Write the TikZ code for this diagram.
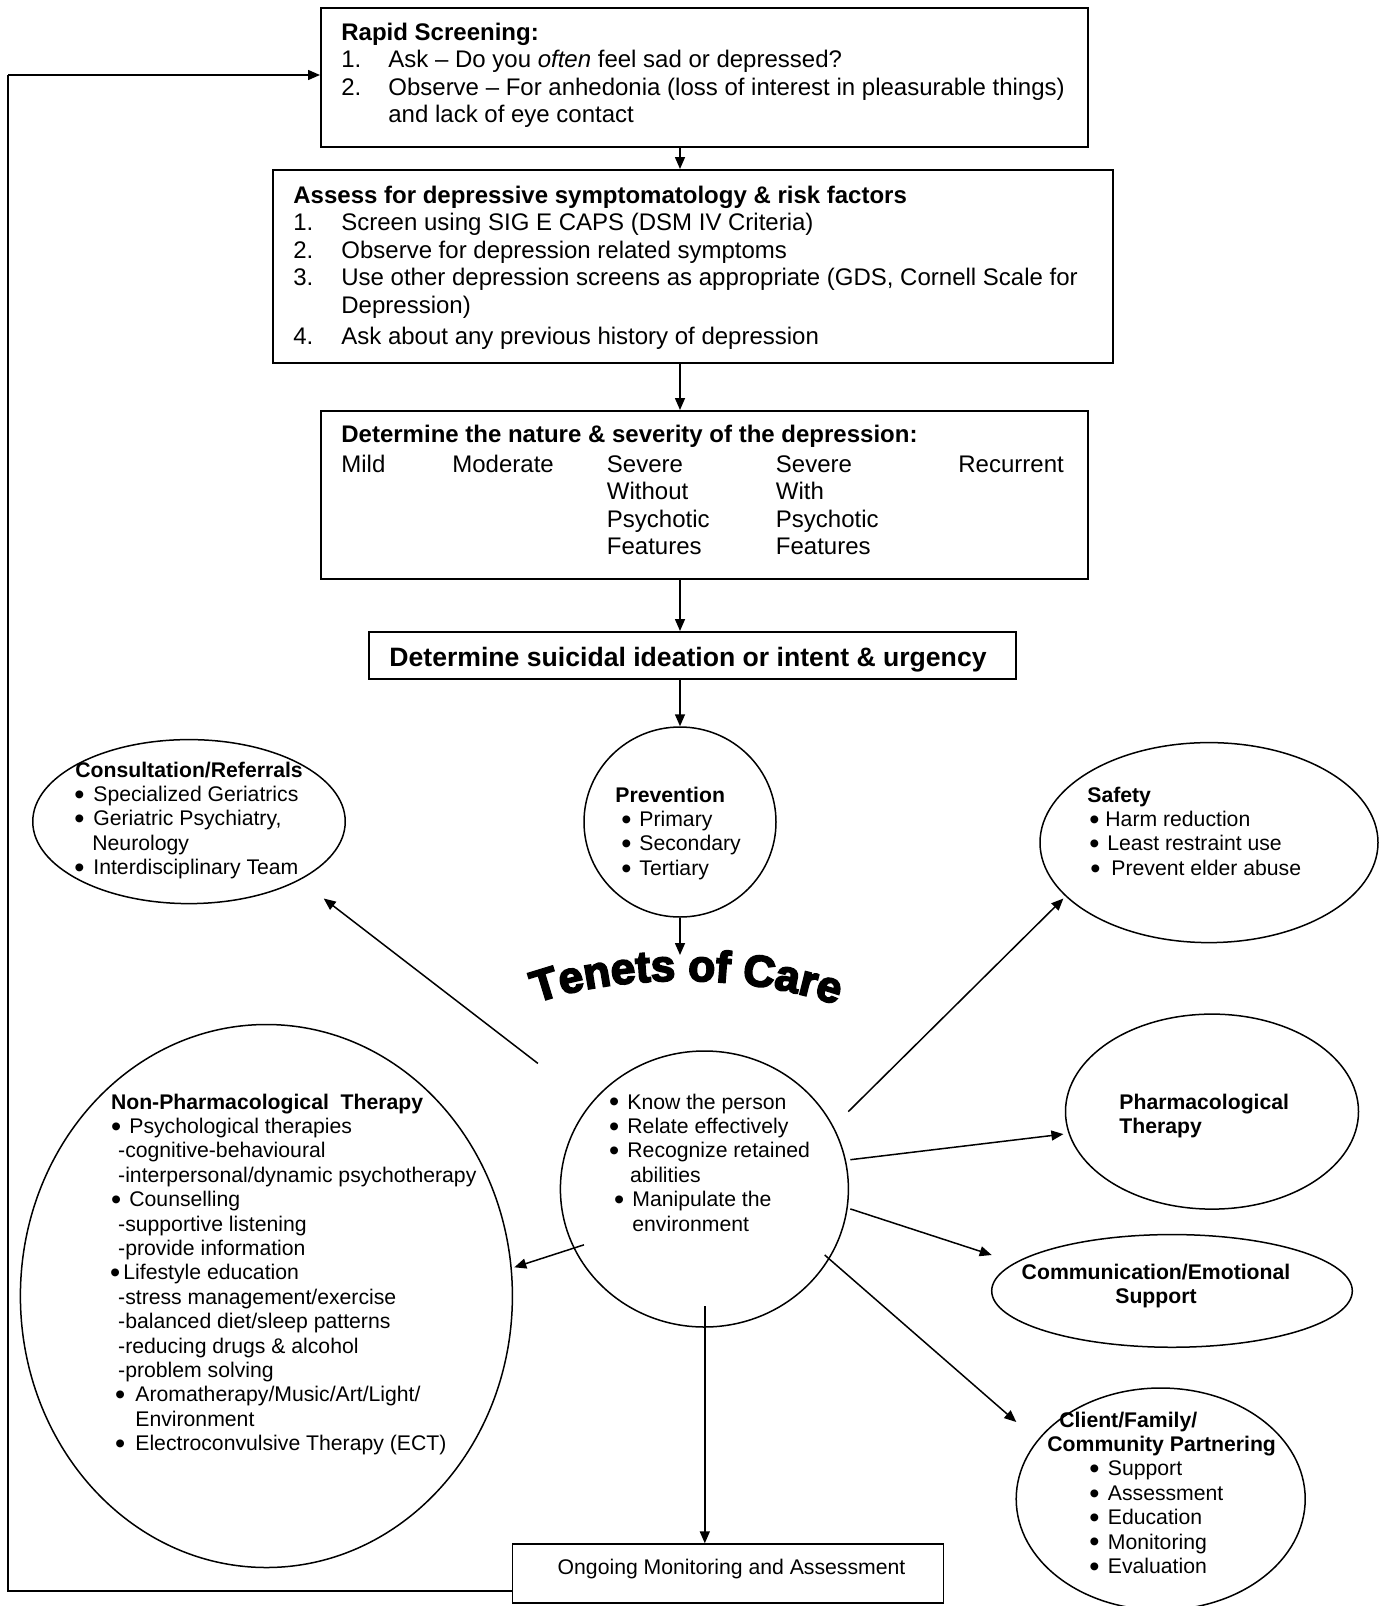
\documentclass[tikz,border=0pt]{standalone}
\usepackage{fontspec}
\setmainfont{Liberation Sans}
\newfontfamily\heavyfont{Liberation Sans}[BoldFeatures={FakeBold=4}]
\usetikzlibrary{shapes.geometric,arrows.meta,decorations.text}

\newlength\pxu \setlength\pxu{0.5pt}
\newcommand\bigtxt{\fontsize{12}{13.8}\selectfont}
\newcommand\smtxt{\fontsize{10.6}{12.2}\selectfont}
\newcommand\bigbul{\raisebox{-1.4pt}{\fontsize{14.5}{14.5}\selectfont\textbullet}}
\newcommand\pln[2]{\hspace*{#1\pxu}#2\par}
\newcommand\bln[3]{\hspace*{#1\pxu}\makebox[#2\pxu][l]{\bigbul}#3\par}
\newcommand\nln[3]{\makebox[#1\pxu][l]{#2}#3\par}

\begin{document}
\begin{tikzpicture}[x=0.5pt,y=-0.5pt,
  rect/.style 2 args={draw, line width=1pt, rectangle, minimum width={#1*0.5pt}, minimum height={#2*0.5pt}, inner sep=0pt},
  ell/.style 2 args={draw, line width=0.75pt, ellipse, minimum width={#1*0.5pt}, minimum height={#2*0.5pt}, inner sep=0pt},
  blk/.style={anchor=base west, inner sep=0pt},
  ctr/.style={anchor=base, inner sep=0pt},
  arr/.style={-{Triangle[length=6pt,width=5pt]}, line width=0.75pt}]
\useasboundingbox (0,0) rectangle (1379,1606);

% shapes
\node[rect={767}{139}] (b1) at (704.5,77.5) {};
\node[rect={840}{193}] (b2) at (693,266.5) {};
\node[rect={767}{168}] (b3) at (704.5,495) {};
\node[rect={647}{47}] (b4) at (692.5,655.5) {};
\node[ell={192}{190}] (pv) at (680,822) {};
\node[ell={312.5}{164}] (cons) at (189,821.6) {};
\node[ell={338}{200}] (safe) at (1209,842.6) {};
\node[ell={288}{276}] (cc) at (704.4,1189) {};
\node[ell={492}{543}] (np) at (266.4,1296) {};
\node[ell={293}{195}] (ph) at (1212,1111.6) {};
\node[ell={360.6}{112.7}] (cm) at (1172,1290.9) {};
\node[ell={289}{222}] (cl) at (1160.7,1499) {};
\node[rect={431}{59}, line width=0.8pt] (og) at (728,1573.6) {};

% texts
\node[blk] (t1) at (341,40) {\parbox[t]{450pt}{\bigtxt
\textbf{Rapid Screening:}\par
\nln{47}{1.}{Ask – Do you \textit{often} feel sad or depressed?}
\nln{47}{2.}{Observe – For anhedonia (loss of interest in pleasurable things)}
\pln{47}{and lack of eye contact}}};

\node[blk] (t2) at (293,203) {\parbox[t]{480pt}{\bigtxt
\textbf{Assess for depressive symptomatology \& risk factors}\par
\nln{48}{1.}{Screen using SIG E CAPS (DSM IV Criteria)}
\nln{48}{2.}{Observe for depression related symptoms}
\nln{48}{3.}{Use other depression screens as appropriate (GDS, Cornell Scale for}
\pln{48}{Depression)}
\vspace{1.5pt}
\nln{48}{4.}{Ask about any previous history of depression}}};

\node[blk] (t3) at (341,442.5) {\bigtxt\textbf{Determine the nature \& severity of the depression:}};
\node[blk] (c1) at (341,472) {\bigtxt Mild};
\node[blk] (c2) at (452,472) {\bigtxt Moderate};
\node[blk] (c3) at (606.5,472) {\parbox[t]{100pt}{\bigtxt Severe\par Without\par Psychotic\par Features}};
\node[blk] (c4) at (775.5,472) {\parbox[t]{100pt}{\bigtxt Severe\par With\par Psychotic\par Features}};
\node[blk] (c5) at (958,472) {\bigtxt Recurrent};

\node[ctr] (t4) at (688,666) {\fontsize{13.3}{15}\selectfont\bfseries Determine suicidal ideation or intent \& urgency};

\node[blk] (tpv) at (615,802) {\parbox[t]{150pt}{\smtxt
\pln{0}{\textbf{Prevention}}
\bln{6}{18}{Primary}
\bln{6}{18}{Secondary}
\bln{6}{18}{Tertiary}}};

\node[blk] (tcons) at (75,777) {\parbox[t]{200pt}{\smtxt
\pln{0}{\textbf{Consultation/Referrals}}
\bln{-1}{19}{Specialized Geriatrics}
\bln{-1}{19}{Geriatric Psychiatry,}
\pln{17}{Neurology}
\bln{-1}{19}{Interdisciplinary Team}}};

\node[blk] (tsafe) at (1087,802) {\parbox[t]{200pt}{\smtxt
\pln{0}{\textbf{Safety}}
\bln{2}{16}{Harm reduction}
\bln{2}{18}{Least restraint use}
\bln{3}{21}{Prevent elder abuse}}};

\node[blk] (tcc) at (608.6,1109) {\parbox[t]{200pt}{\smtxt
\bln{0}{18.4}{Know the person}
\bln{0}{18.4}{Relate effectively}
\bln{0}{18.4}{Recognize retained}
\pln{21}{abilities}
\bln{5}{18.4}{Manipulate the}
\pln{23.4}{environment}}};

\node[blk] (tnp) at (110.6,1109) {\parbox[t]{250pt}{\smtxt
\pln{0}{\textbf{Non-Pharmacological\ \ Therapy}}
\bln{0}{18.4}{Psychological therapies}
\pln{7.2}{-cognitive-behavioural}
\pln{7.2}{-interpersonal/dynamic psychotherapy}
\bln{0}{18.4}{Counselling}
\pln{7.2}{-supportive listening}
\pln{7.2}{-provide information}
\bln{-1}{13.4}{Lifestyle education}
\pln{7.2}{-stress management/exercise}
\pln{7.2}{-balanced diet/sleep patterns}
\pln{7.2}{-reducing drugs \& alcohol}
\pln{7.2}{-problem solving}
\bln{4}{20.4}{Aromatherapy/Music/Art/Light/}
\pln{24.4}{Environment}
\bln{4}{20.4}{Electroconvulsive Therapy (ECT)}}};

\node[blk] (tph) at (1119,1109) {\parbox[t]{150pt}{\smtxt\bfseries Pharmacological\par Therapy}};

\node[ctr] (tcm) at (1156,1279) {\parbox[t]{200pt}{\centering\smtxt\bfseries Communication/Emotional\\Support}};

\node[blk] (tcl) at (1047,1427) {\parbox[t]{200pt}{\smtxt
\pln{12}{\textbf{Client/Family/}}
\pln{0}{\textbf{Community Partnering}}
\bln{42}{18.5}{Support}
\bln{42}{18.5}{Assessment}
\bln{42}{18.5}{Education}
\bln{42}{18.5}{Monitoring}
\bln{42}{18.5}{Evaluation}}};

\node[ctr] (tog) at (731.5,1574.5) {\smtxt Ongoing Monitoring and Assessment};

% Tenets of Care
\path[decorate, decoration={text along path, text align=center,
  text={|\heavyfont\bfseries\fontsize{22}{26}\selectfont|Tenets of Care}}]
  (528,1006) .. controls (615,972) and (750,972) .. (845,1008);

% connectors
\draw[arr] (b1.south -| pv) -- (b2.north -| pv);
\draw[arr] (b2.south -| pv) -- (b3.north -| pv);
\draw[arr] (b3.south -| pv) -- (b4.north -| pv);
\draw[arr] (b4.south -| pv) -- (pv.north);
\coordinate (tn) at (680,955);
\draw[arr] (pv.south) -- (tn);

\draw[arr] ([shift={(-166.5,-125.6)}]cc.center) -- ([shift={(134.7,76.9)}]cons.center);
\draw[arr] ([shift={(143.9,-77.4)}]cc.center) -- ([shift={(-145.6,55.9)}]safe.center);
\draw[arr] ([shift={(145.9,-29.3)}]cc.center) -- ([shift={(-148.6,22.5)}]ph.center);
\draw[arr] ([shift={(145.9,19.9)}]cc.center) -- ([shift={(-180.3,-35.9)}]cm.center);
\draw[arr] ([shift={(120.3,66)}]cc.center) -- ([shift={(-144.4,-77)}]cl.center);
\draw[arr] ([shift={(-120.4,55.8)}]cc.center) -- ([shift={(247.9,-28.7)}]np.center);
\draw[arr] ([shift={(0.4,117.2)}]cc.center) -- ([shift={(0.4,0)}]og.north -| cc);

\coordinate (fa) at (8,1591);
\coordinate (fb) at (8,75);
\draw[line width=0.9pt] (fa -| og.west) -- (fa) -- (fb);
\draw[arr] (fb) -- (fb -| b1.west);
\end{tikzpicture}
\end{document}
